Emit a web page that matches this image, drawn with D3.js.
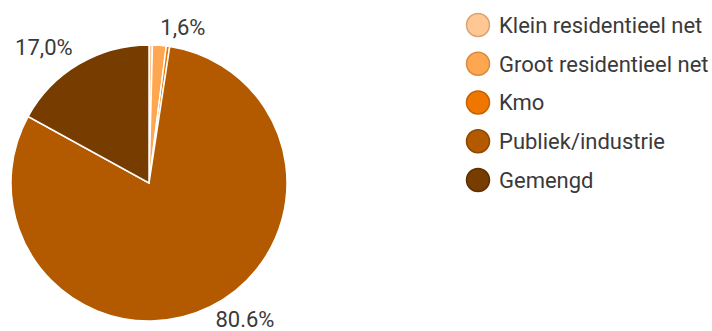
<!DOCTYPE html>
<html>
<head>
<meta charset="utf-8">
<script src="https://cdn.jsdelivr.net/npm/d3@7"></script>
<style>
  body { margin: 0; background: #fff; }
  text { font-family: Roboto, sans-serif; fill: #3a3a3a; }
</style>
</head>
<body>
<svg id="chart" width="712" height="331"></svg>
<script>
const categories = ["Klein residentieel net", "Groot residentieel net", "Kmo", "Publiek/industrie", "Gemengd"];
const shares = [0.4, 1.6, 0.4, 80.6, 17.0];
const sliceLabels = ["", "1,6%", "", "80.6%", "17,0%"];
const colours = ["#ffc793", "#ffa650", "#ef7700", "#b35900", "#773c00"];
const strokes = ["#d9a473", "#d98a40", "#c46200", "#8f4700", "#5c2e00"];

const svg = d3.select("#chart");
const cx = 149, cy = 183, radius = 138;

const pie = d3.pie().sort(null).value(d => d);
const arcs = pie(shares);
const arc = d3.arc().innerRadius(0).outerRadius(radius);

const g = svg.append("g").attr("transform", `translate(${cx},${cy})`);

g.selectAll("path.slice")
  .data(arcs)
  .join("path")
  .attr("class", "slice")
  .attr("d", arc)
  .attr("fill", (d, i) => colours[i])
  .attr("stroke", "#fff")
  .attr("stroke-width", 1.5);

// labels just outside the rim
const labelRadius = 150;
g.selectAll("text.slice-label")
  .data(arcs)
  .join("text")
  .attr("class", "slice-label")
  .attr("font-size", 22)
  .each(function(d, i) {
    const a = (d.startAngle + d.endAngle) / 2;
    const x = Math.sin(a) * labelRadius;
    const y = -Math.cos(a) * labelRadius;
    d3.select(this)
      .attr("x", x)
      .attr("y", y)
      .attr("dy", Math.cos(a) < 0 ? "0.42em" : "0.05em")
      .attr("text-anchor", Math.sin(a) >= 0 ? "start" : "end")
      .text(sliceLabels[i]);
  });

// legend
const legendY = d3.scalePoint().domain(categories).range([25, 180]);
const legend = svg.append("g").attr("transform", "translate(478,0)");

const rows = legend.selectAll("g.row")
  .data(categories)
  .join("g")
  .attr("class", "row")
  .attr("transform", d => `translate(0,${legendY(d)})`);

rows.append("circle")
  .attr("r", 11.5)
  .attr("fill", (d, i) => colours[i])
  .attr("stroke", (d, i) => strokes[i])
  .attr("stroke-width", 1.5);

rows.append("text")
  .attr("x", 21)
  .attr("dy", "0.36em")
  .attr("font-size", 22)
  .text(d => d);
</script>
</body>
</html>
